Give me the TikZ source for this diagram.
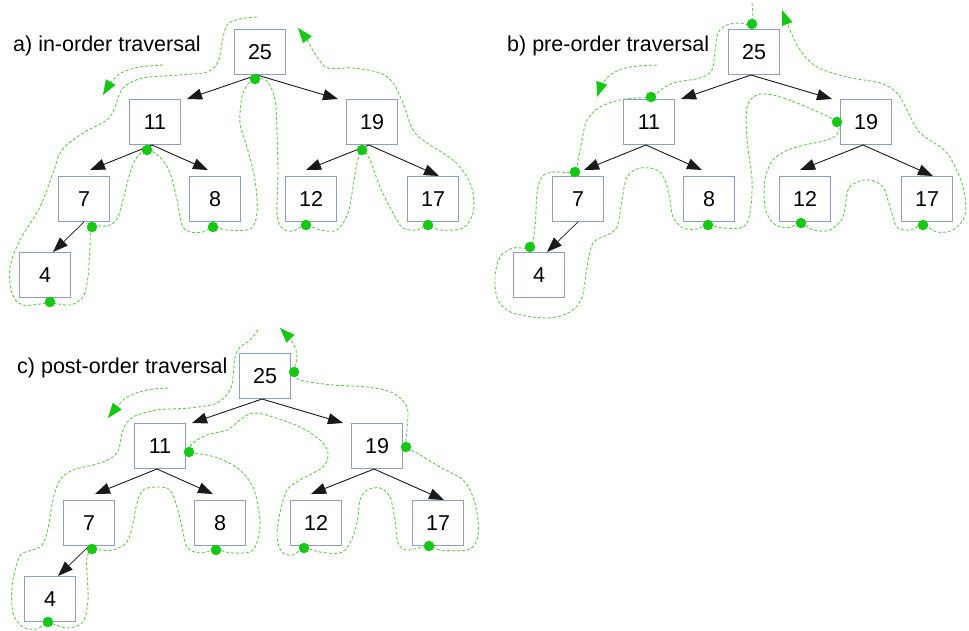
\documentclass[tikz,border=0pt]{standalone}
\usepackage{fontspec}
\setmainfont{Liberation Sans}
\usetikzlibrary{arrows.meta}
\definecolor{boxcol}{RGB}{140,160,190}
\definecolor{dotgreen}{RGB}{20,200,20}
\definecolor{dashgreen}{RGB}{100,200,80}
\definecolor{edgecol}{RGB}{25,25,25}
\tikzset{
 tbox/.style={draw=boxcol, line width=1pt, minimum width=51pt, minimum height=45pt, inner sep=0pt, font=\fontsize{21.5}{21.5}\selectfont, fill=white},
 edge/.style={draw=edgecol, line width=0.9pt, -{Triangle[length=15pt,width=11pt]}},
 trav/.style={dashgreen, line width=0.9pt, dash pattern=on 3pt off 2pt},
 travarrow/.style={trav, -{Triangle[length=15pt,width=11pt,color=dotgreen]}},
 gdot/.style={circle, fill=dotgreen, minimum size=10.5pt, inner sep=0pt},
 caption/.style={anchor=base west, font=\fontsize{21.5}{21.5}\selectfont, inner sep=0pt}
}
\newcommand\bintree[3]{%
\begin{scope}[shift={(#2,#3)}]
 \node[tbox] (#1n25) at (260,52) {25};
 \node[tbox] (#1n11) at (155,122) {11};
 \node[tbox] (#1n19) at (372,122) {19};
 \node[tbox] (#1n7) at (84,199) {7};
 \node[tbox] (#1n8) at (215,199) {8};
 \node[tbox] (#1n12) at (311,199) {12};
 \node[tbox] (#1n17) at (433,199) {17};
 \node[tbox] (#1n4) at (45,275) {4};
 \draw[edge] ([xshift=-3pt]#1n25.south) -- ([xshift=6pt]#1n11.north east);
 \draw[edge] ([xshift=-3pt]#1n25.south) -- ([xshift=-8pt]#1n19.north west);
 \draw[edge] ([xshift=-3pt]#1n11.south) -- ([xshift=6pt,yshift=6pt]#1n7.north);
 \draw[edge] ([xshift=-3pt]#1n11.south) -- ([xshift=-7pt,yshift=6pt]#1n8.north);
 \draw[edge] ([xshift=-3pt]#1n19.south) -- ([xshift=-5pt,yshift=6pt]#1n12.north);
 \draw[edge] ([xshift=-3pt]#1n19.south) -- ([xshift=6pt]#1n17.north);
 \draw[edge, line width=0.7pt] (#1n7.south) -- ([xshift=8pt]#1n4.north);
\end{scope}}
\begin{document}
\begin{tikzpicture}[x=1pt,y=-1pt]
\useasboundingbox (0,0) rectangle (969,631);
% captions
\node[caption] (capa) at (13,52) {a) in-order traversal};
\node[caption] (capb) at (507,52) {b) pre-order traversal};
\node[caption] (capc) at (17,373) {c) post-order traversal};
% trees
\bintree{a}{0}{0}
\bintree{b}{494}{0}
\bintree{c}{5}{324}
% ---------- a) in-order
\draw[travarrow] plot[smooth, tension=0.6] coordinates {(163,65) (140,67) (123,72) (113,80) (103,95)};
\draw[travarrow] plot[smooth, tension=0.55] coordinates {
(257,17) (240,19) (227,25) (222,43) (218,62) (207,72) (180,75) (143,78) (123,88) (115,107) (107,120) (83,133) (62,150) (53,173) (40,207) (20,240) (10,267) (12,293) (23,305) (50,303) (70,305) (83,297) (88,277) (90,247) (92,227)
(107,226) (117,219) (123,200) (130,173) (137,157) (147,150)
(160,157) (170,173) (177,200) (182,225) (190,232) (203,232) (213,227)
(227,230) (250,229) (257,213) (255,180) (247,147) (240,123) (242,97) (248,84) (255,79)
(267,81) (275,100) (277,133) (278,173) (277,213) (282,228) (293,231) (306,225)
(320,230) (337,230) (348,213) (353,187) (357,163) (362,150)
(370,160) (380,187) (393,213) (403,228) (417,230) (428,225)
(440,230) (463,228) (473,213) (473,193) (467,177) (453,160) (427,143) (413,130) (403,103) (393,83) (380,73) (353,68) (328,68) (317,57) (307,40) (298,28)};
\foreach \p/\q [count=\i] in {255/79,147/150,92/227,50/302,213/227,362/150,306/225,428/225}
  \node[gdot] (adot\i) at (\p,\q) {};
% ---------- b) pre-order
\draw[travarrow] plot[smooth, tension=0.6] coordinates {(657,65) (630,67) (613,73) (603,83) (597,97)};
\draw[travarrow] plot[smooth, tension=0.55] coordinates {
(752,3) (752,24) (740,23) (727,25) (718,33) (715,50) (712,70) (700,78) (677,82) (665,87) (651,97)
(637,98) (620,100) (600,107) (587,120) (582,140) (578,160) (575,172)
(553,172) (542,177) (537,193) (535,227) (530,247)
(513,248) (500,257) (495,277) (498,300) (513,313) (547,318) (570,312) (582,297) (587,267) (593,243) (607,235) (617,227) (622,200) (627,177) (640,168) (657,170) (665,180) (670,200) (673,217) (683,228) (697,229) (708,225)
(723,228) (743,227) (750,213) (752,180) (747,140) (747,107) (757,95) (773,95) (797,103) (820,113) (837,122)
(838,133) (827,140) (793,148) (773,160) (765,180) (765,207) (773,223) (787,228) (801,223)
(813,230) (830,230) (843,217) (848,190) (857,182) (870,180) (883,187) (890,207) (897,227) (910,230) (923,225)
(937,232) (953,230) (965,215) (963,187) (947,153) (920,133) (907,110) (897,93) (880,83) (847,77) (817,67) (800,50) (790,30) (782,10)};
\foreach \p/\q [count=\i] in {752/24,651/97,575/172,530/247,708/225,837/122,801/223,923/225}
  \node[gdot] (bdot\i) at (\p,\q) {};
% ---------- c) post-order
\draw[travarrow] plot[smooth, tension=0.6] coordinates {(168,388) (147,390) (127,397) (117,407) (108,418)};
\draw[travarrow] plot[smooth, tension=0.55] coordinates {
(258,330) (250,340) (240,347) (235,357) (233,377) (230,390) (217,403) (190,408) (157,410) (133,417) (123,430) (117,453) (100,463) (73,470) (60,480) (53,500) (47,533) (40,547) (23,553) (17,563) (12,587) (13,613) (23,627) (37,629) (48,623)
(67,628) (83,622) (88,600) (87,573) (87,557) (92,549)
(100,550) (113,550) (127,542) (133,523) (137,503) (143,490) (157,487) (170,490) (177,507) (182,527) (187,547) (200,553) (216,550)
(233,553) (253,550) (260,527) (258,507) (253,487) (240,470) (223,460) (207,455) (189,452)
(193,443) (207,435) (227,430) (240,420) (253,413) (273,417) (300,427) (320,440) (328,453) (323,467) (300,480) (287,490) (280,513) (277,537) (282,552) (293,555) (304,548)
(320,552) (340,553) (350,543) (357,523) (360,500) (367,490) (380,488) (390,497) (395,520) (398,543) (407,550) (429,546)
(440,550) (467,550) (477,540) (478,520) (473,497) (463,480) (440,467) (417,453) (406,447)
(407,430) (407,407) (393,393) (367,387) (333,385) (300,380) (294,372)
(297,357) (293,343) (280,328)};
\foreach \p/\q [count=\i] in {48/622,92/549,216/550,189/452,304/548,429/546,406/447,294/372}
  \node[gdot] (cdot\i) at (\p,\q) {};
\end{tikzpicture}
\end{document}
